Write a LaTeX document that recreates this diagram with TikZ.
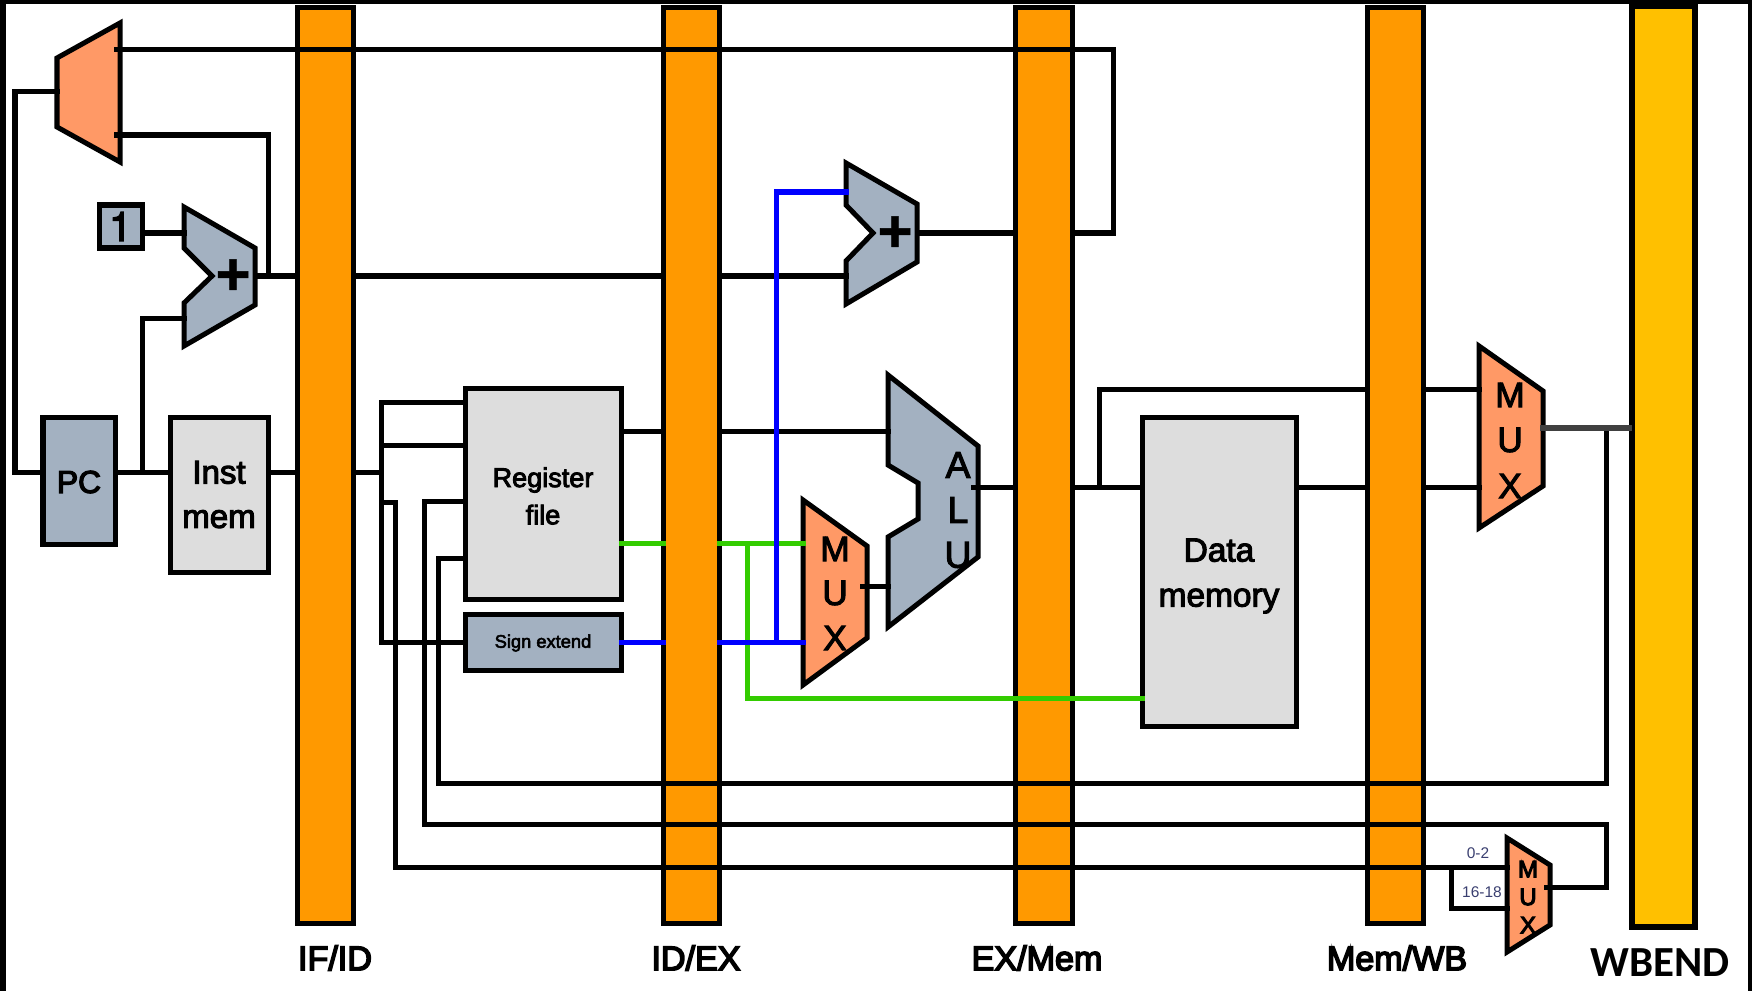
\documentclass[tikz,border=0pt]{standalone}
\usepackage{fontspec}
\setmainfont{Liberation Sans}
\newfontfamily\calfont{Carlito}
\newfontfamily\herosfont{TeX Gyre Heros}
\definecolor{latch}{HTML}{FF9900}
\definecolor{wbcol}{HTML}{FFC000}
\definecolor{slate}{HTML}{A3B1C1}
\definecolor{lgray}{HTML}{DDDDDD}
\definecolor{salmon}{HTML}{FF9966}
\definecolor{wgreen}{HTML}{33CC00}
\definecolor{wblue}{HTML}{0000FF}
\definecolor{smalltxt}{HTML}{3A3F70}
\newcommand{\strokeon}[1]{\special{pdf:code 2 Tr #1 w}}
\newcommand{\strokeoff}{\special{pdf:code 0 Tr 1 w}}
\tikzset{
  outl/.style={draw=black,line width=0.05cm,line join=miter},
  wire/.style={draw=black,line width=0.05cm,line cap=rect,line join=miter},
  gwire/.style={draw=wgreen,line width=0.05cm,line cap=rect,line join=miter},
  bwire/.style={draw=wblue,line width=0.05cm,line cap=rect,line join=miter},
  rect/.style={outl,inner sep=0pt,outer sep=0pt,align=center},
  latchbox/.style={rect,fill=latch},
  slatebox/.style={rect,fill=slate},
  graybox/.style={rect,fill=lgray},
  heavy/.style={execute at begin node={\strokeon{#1}},execute at end node={\strokeoff}},
  mtxt/.style={inner sep=0pt,heavy=0.3,align=center,font=\fontsize{#1}{#1}\selectfont},
  ltxt/.style={inner sep=0pt,heavy=0.45,font=\fontsize{9.7}{9.7}\selectfont}
}
% name, x1, y1, x2, y2, style, text
\newcommand{\rbox}[7]{\node[#6,minimum width={(#4-#2)*0.01cm},minimum height={(#5-#3)*0.01cm}] (#1) at ({(#2+#4)/2},{(#3+#5)/2}) {#7};}
\begin{document}
\begin{tikzpicture}[x=0.01cm,y=-0.01cm]
\useasboundingbox (0,0) rectangle (1752,991);
\fill[white] (0,0) rectangle (1752,991);
% frame
\fill[black] (0,0) rectangle (1752,4);
\fill[black] (0,0) rectangle (6,991);
\fill[black] (1748,0) rectangle (1752,991);
% latches
\rbox{ifid}{297}{8}{353}{923}{latchbox}{}
\rbox{idex}{663}{8}{719}{923}{latchbox}{}
\rbox{exmem}{1015}{8}{1072}{923}{latchbox}{}
\rbox{memwb}{1367}{8}{1423}{923}{latchbox}{}
\rbox{wbend}{1632}{6}{1695}{927}{rect,fill=wbcol,line width=0.055cm}{}
% labels
\node[ltxt] (lifid) at (335,958) {IF/ID};
\node[ltxt] (lidex) at (696,958) {ID/EX};
\node[ltxt] (lexmem) at (1037,958) {EX/Mem};
\node[ltxt] (lmemwb) at (1397,958) {Mem/WB};
\node[inner sep=0pt,font=\calfont\bfseries\fontsize{12.2}{12.2}\selectfont] (lwb) at (1660,963) {WBEND};
% boxes
\rbox{pc}{43}{417}{115}{544}{slatebox}{}
\node[mtxt=9,heavy=0.35] (pct) at (79,482) {PC};
\rbox{inst}{170}{417}{268}{572}{graybox,heavy=0.3,font=\fontsize{9.4}{12.6}\selectfont}{Inst\\mem}
\rbox{one}{99}{205}{142}{248}{slatebox,heavy=0.4,font=\herosfont\fontsize{11.5}{11.5}\selectfont}{1}
\rbox{reg}{465}{388}{621}{599}{graybox}{}
\node[mtxt=7.7,heavy=0.25,font=\fontsize{7.7}{10.6}\selectfont] (regt) at (543,496) {Register\\file};
\rbox{sign}{465}{614}{621}{670}{slatebox}{}
\node[mtxt=5.2,heavy=0.15] (signt) at (543,643) {Sign extend};
\rbox{dmem}{1142}{417}{1296}{726}{graybox}{}
\node[mtxt=9.5,font=\fontsize{9.5}{12.8}\selectfont] (dmemt) at (1219,576) {Data\\memory};
% shapes
\filldraw[outl,fill=salmon] (57,58) -- (120,23) -- (120,162) -- (57,127) -- cycle;
\coordinate (pcmuxout) at (57,92);
\filldraw[outl,fill=slate] (184,207) -- (255,248) -- (255,305) -- (184,346) -- (184,303) -- (212,276) -- (184,248) -- cycle;
\node[inner sep=0pt,heavy=0.15,font=\bfseries\fontsize{17}{17}\selectfont] (plusa) at (233,277) {+};
\filldraw[outl,fill=slate] (846,163) -- (917,204) -- (917,262) -- (846,304) -- (846,261) -- (873,233) -- (846,205) -- cycle;
\node[inner sep=0pt,heavy=0.15,font=\bfseries\fontsize{17}{17}\selectfont] (plusb) at (895,234) {+};
\filldraw[outl,fill=slate] (888,375) -- (978,446) -- (978,557) -- (888,627) -- (888,537) -- (918,519) -- (918,483) -- (888,465) -- cycle;
\node[mtxt=10.6] (aluA) at (958,465) {A};
\node[mtxt=10.6] (aluL) at (958,510) {L};
\node[mtxt=10.6] (aluU) at (958,555) {U};
\filldraw[outl,fill=salmon] (803,500) -- (867,546) -- (867,638) -- (803,685) -- cycle;
\node[mtxt=10] (m1M) at (835,549) {M};
\node[mtxt=10] (m1U) at (835,593) {U};
\node[mtxt=10] (m1X) at (835,638) {X};
\filldraw[outl,fill=salmon] (1479,346) -- (1543,391) -- (1543,486) -- (1479,528) -- cycle;
\node[mtxt=10] (m2M) at (1510,395) {M};
\node[mtxt=10] (m2U) at (1510,440) {U};
\node[mtxt=10] (m2X) at (1510,486) {X};
\filldraw[outl,fill=salmon] (1507,838) -- (1550,865) -- (1550,925) -- (1507,952) -- cycle;
\node[mtxt=6.8] (m3M) at (1528,869) {M};
\node[mtxt=6.8] (m3U) at (1528,897) {U};
\node[mtxt=6.8] (m3X) at (1528,925) {X};
\node[inner sep=0pt,text=smalltxt,font=\fontsize{4.4}{4.4}\selectfont] (t02) at (1478,853) {0-2};
\node[inner sep=0pt,text=smalltxt,font=\fontsize{4.4}{4.4}\selectfont] (t1618) at (1482,892) {16-18};
% black wires
\draw[wire] (pcmuxout) -- (15,92) |- (pc.west |- 0,472);
\draw[wire] (116,50) -- (1113,50) |- (exmem.east |- 0,233);
\draw[wire] (116,135) -- (268,135) -- (268,276);
\draw[wire] (one.east |- 0,233) -- (184,233);
\draw[wire] (255,276) -- (ifid.west |- 0,276);
\draw[wire] (ifid.east |- 0,276) -- (idex.west |- 0,276);
\draw[wire] (idex.east |- 0,276) -- (846,276);
\draw[wire] (917,233) -- (exmem.west |- 0,233);
\draw[wire] (pc.east |- 0,472) -- (inst.west |- 0,472);
\draw[wire] (142,472) |- (184,318);
\draw[wire] (inst.east |- 0,472) -- (ifid.west |- 0,472);
\draw[wire] (ifid.east |- 0,472) -- (381,472);
\draw[wire] (reg.west |- 0,402) -| (381,642) -- (sign.west |- 0,642);
\draw[wire] (381,445) -- (reg.west |- 0,445);
\draw[wire] (381,502) -- (395,502) |- (memwb.east |- 0,867) -- (1507,867);
\draw[wire] (1451,867) |- (1507,908);
\draw[wire] (reg.west |- 0,501) -- (424,501) |- (1606,824) -- (1606,887) -- (1546,887);
\draw[wire] (reg.west |- 0,558) -- (438,558) |- (1606,783) -- (1606,430);
\draw[wire] (reg.east |- 0,431) -- (idex.west |- 0,431);
\draw[wire] (idex.east |- 0,431) -- (888,431);
\draw[wire] (862,586) -- (888,586);
\draw[wire] (973,487) -- (exmem.west |- 0,487);
\draw[wire] (exmem.east |- 0,487) -- (dmem.west |- 0,487);
\draw[wire] (1099,487) |- (memwb.west |- 0,389);
\draw[wire] (dmem.east |- 0,487) -- (memwb.west |- 0,487);
\draw[wire] (memwb.east |- 0,389) -- (1479,389);
\draw[wire] (memwb.east |- 0,487) -- (1479,487);
\draw[draw=black!75,line width=0.065cm] (1540,428) -- (wbend.west |- 0,428);
% coloured wires
\draw[gwire] (reg.east |- 0,543) -- (idex.west |- 0,543);
\draw[gwire] (idex.east |- 0,543) -- (803,543);
\draw[gwire] (747,543) |- (dmem.west |- 0,698);
\draw[bwire] (sign.east |- 0,642) -- (idex.west |- 0,642);
\draw[bwire] (idex.east |- 0,642) -- (803,642);
\draw[bwire] (776,642) |- (846,192);
\end{tikzpicture}
\end{document}
